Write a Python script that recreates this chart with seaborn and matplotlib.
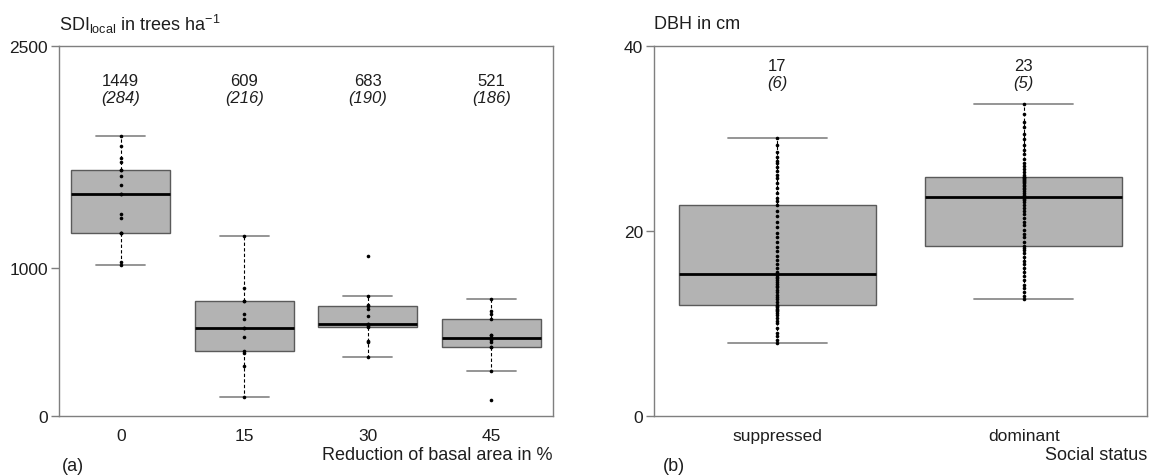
import matplotlib
matplotlib.use('Agg')
import matplotlib.pyplot as plt
import numpy as np
import pandas as pd
import seaborn as sns

# SDI_local per reduction of basal area (dots, duplicates overlap)
reduction_levels = ['0', '15', '30', '45']
sdi_0 = [1022, 1038, 1234, 1236, 1236, 1336, 1365, 1500, 1500, 1563, 1624, 1662, 1662, 1714, 1743, 1826, 1895]
sdi_15 = [126, 340, 426, 439, 531, 592, 592, 655, 686, 776, 780, 865, 1218]
sdi_30 = [401, 497, 504, 599, 605, 619, 619, 674, 723, 746, 750, 809, 1080]
sdi_45 = [110, 304, 464, 466, 497, 516, 527, 547, 547, 653, 689, 707, 791]
sdi_mean = [1449, 609, 683, 521]
sdi_sd = [284, 216, 190, 186]

# DBH per social status
status_levels = ['suppressed', 'dominant']
dbh_suppressed = [7.9, 8.2, 8.6, 9.0, 9.5, 10.0, 10.3, 10.6, 10.9, 11.1, 11.3, 11.5, 11.6, 11.8, 11.9,
                  12.0, 12.3, 12.6, 12.9, 13.1, 13.4, 13.6, 13.9, 14.1, 14.3, 14.5, 14.7, 14.9, 15.0, 15.2,
                  15.3, 15.6, 16.0, 16.4, 16.9, 17.3, 17.8, 18.3, 18.8, 19.3, 19.8, 20.4, 21.0, 21.6, 22.2,
                  22.8, 23.2, 23.6, 24.1, 24.7, 25.2, 25.7, 26.1, 26.5, 26.9, 27.3, 27.6, 28.0, 28.5, 29.3, 30.0]
dbh_dominant = [12.7, 13.0, 13.4, 13.8, 14.2, 14.7, 15.1, 15.6, 16.0, 16.4, 16.8, 17.2, 17.6, 17.9, 18.2,
                18.4, 18.8, 19.3, 19.7, 20.1, 20.6, 21.0, 21.4, 21.8, 22.2, 22.5, 22.8, 23.1, 23.3, 23.5,
                23.7, 23.9, 24.1, 24.3, 24.5, 24.7, 24.9, 25.0, 25.2, 25.3, 25.4, 25.5, 25.6, 25.7, 25.8,
                25.8, 26.1, 26.4, 26.7, 27.0, 27.4, 27.8, 28.3, 28.8, 29.3, 29.9, 30.5, 31.2, 31.8, 32.6, 33.7]
dbh_mean = [17, 23]
dbh_sd = [6, 5]

sns.set_style('white')
plt.rcParams['font.family'] = ['Liberation Sans', 'DejaVu Sans']
plt.rcParams['mathtext.fontset'] = 'custom'
plt.rcParams['mathtext.rm'] = 'Liberation Sans'
plt.rcParams['mathtext.it'] = 'Liberation Sans:italic'

txt_col = '#1e1e1e'

df_sdi = pd.DataFrame({
    'reduction': np.repeat(reduction_levels, [len(sdi_0), len(sdi_15), len(sdi_30), len(sdi_45)]),
    'sdi': sdi_0 + sdi_15 + sdi_30 + sdi_45,
})
df_dbh = pd.DataFrame({
    'status': np.repeat(status_levels, [len(dbh_suppressed), len(dbh_dominant)]),
    'dbh': dbh_suppressed + dbh_dominant,
})

fig = plt.figure(figsize=(11.52, 4.77), dpi=100)
ax1 = fig.add_axes([0.0512, 0.1258, 0.4288, 0.7757])
ax2 = fig.add_axes([0.5677, 0.1258, 0.4280, 0.7757])

box_kw = dict(color='#b3b3b3', saturation=1, width=0.8, showfliers=False,
              linecolor='#5a5a5a', linewidth=1,
              medianprops={'color': 'black', 'linewidth': 2},
              whiskerprops={'color': 'black', 'linestyle': (0, (3, 2)), 'linewidth': 0.8},
              capprops={'color': '#8c8c8c', 'linewidth': 1.3})
strip_kw = dict(jitter=False, color='black', size=2.6, linewidth=0)

sns.boxplot(data=df_sdi, x='reduction', y='sdi', order=reduction_levels, ax=ax1, **box_kw)
sns.stripplot(data=df_sdi, x='reduction', y='sdi', order=reduction_levels, ax=ax1, **strip_kw)
sns.boxplot(data=df_dbh, x='status', y='dbh', order=status_levels, ax=ax2, **box_kw)
sns.stripplot(data=df_dbh, x='status', y='dbh', order=status_levels, ax=ax2, **strip_kw)

ax1.set_ylim(0, 2500)
ax1.set_yticks([0, 1000, 2500])
ax2.set_ylim(0, 40)
ax2.set_yticks([0, 20, 40])

for ax, n in [(ax1, 4), (ax2, 2)]:
    ax.set_xlim(-0.5, n - 0.5)
    ax.set_xlabel('')
    ax.set_ylabel('')
    for sp in ax.spines.values():
        sp.set_visible(True)
        sp.set_color('#7f7f7f')
        sp.set_linewidth(1)
    ax.tick_params(axis='y', left=True, length=6, width=1, color='#7f7f7f',
                   labelsize=12.5, labelcolor=txt_col, pad=2)
    ax.tick_params(axis='x', bottom=False, labelsize=12.5, labelcolor=txt_col, pad=5.5)

# mean and (sd) above each box
for i in range(len(reduction_levels)):
    ax1.text(i, 2270, str(sdi_mean[i]), ha='center', va='center', fontsize=12, color=txt_col)
    ax1.text(i, 2149, '(%d)' % sdi_sd[i], ha='center', va='center', fontsize=12,
             style='italic', color=txt_col)
for i in range(len(status_levels)):
    ax2.text(i, 37.9, str(dbh_mean[i]), ha='center', va='center', fontsize=12, color=txt_col)
    ax2.text(i, 36.1, '(%d)' % dbh_sd[i], ha='center', va='center', fontsize=12,
             style='italic', color=txt_col)

ax1.text(0.0, 1.06, r'SDI$_{\mathregular{local}}$ in trees ha$^{\mathregular{-1}}$',
         transform=ax1.transAxes, ha='left', va='center', fontsize=13, color=txt_col)
ax2.text(0.0, 1.06, 'DBH in cm', transform=ax2.transAxes, ha='left', va='center',
         fontsize=13, color=txt_col)

ax1.text(1.0, -0.103, 'Reduction of basal area in %', transform=ax1.transAxes,
         ha='right', va='center', fontsize=13, color=txt_col)
ax2.text(1.0, -0.103, 'Social status', transform=ax2.transAxes,
         ha='right', va='center', fontsize=13, color=txt_col)
ax1.text(0.005, -0.135, '(a)', transform=ax1.transAxes, ha='left', va='center',
         fontsize=13, color=txt_col)
ax2.text(0.018, -0.135, '(b)', transform=ax2.transAxes, ha='left', va='center',
         fontsize=13, color=txt_col)

fig.savefig('out.png', dpi=100)
